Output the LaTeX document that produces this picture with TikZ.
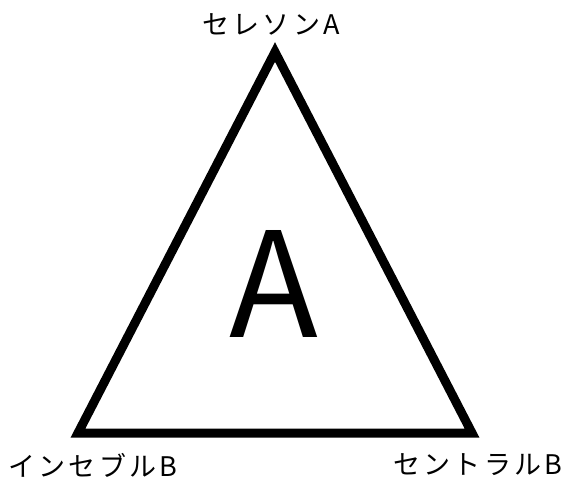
\documentclass[tikz,border=0pt]{standalone}
\usepackage{fontspec}
\setmainfont{Noto Sans CJK JP}
\usetikzlibrary{positioning,calc}

\begin{document}
\begin{tikzpicture}[x=1pt,y=-1pt,
  corner/.style={font=\fontsize{27}{30}\selectfont\addfontfeature{LetterSpace=12}, inner sep=0pt}]
\useasboundingbox (0,0) rectangle (567,481);
\coordinate (apex) at (275,52);
\coordinate (left) at (78,433);
\coordinate (right) at (472,433);
% triangle
\draw[line width=9pt, line join=miter, miter limit=20] (apex) -- (left) -- (right) -- cycle;
\node[font=\fontsize{146}{150}\selectfont, inner sep=0pt] (mark) at (274,284) {A};
% vertex labels
\node[corner] (topname) at (271,24) {セレソンA};
\node[corner] (leftname) at (93,465) {インセブルB};
\node[corner] (rightname) at (478,465) {セントラルB};
\end{tikzpicture}
\end{document}
